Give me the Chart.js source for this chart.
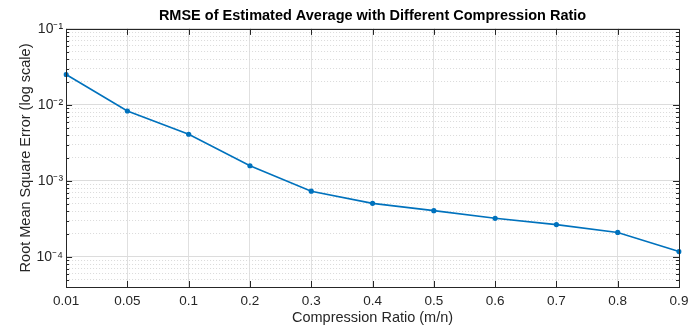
<!DOCTYPE html>
<html>
<head>
<meta charset="utf-8">
<script src="https://cdn.jsdelivr.net/npm/chart.js@4"></script>
<style>
  html, body { margin: 0; padding: 0; background: #fff; }
  #wrap { width: 699px; height: 325px; }
</style>
</head>
<body>
<div id="wrap"><canvas id="rmseChart" width="699" height="325"></canvas></div>
<script>
// compression ratios (m/n) on the x axis
const ratios = ["0.01", "0.05", "0.1", "0.2", "0.3", "0.4", "0.5", "0.6", "0.7", "0.8", "0.9"];
// RMSE
const rmse = [0.0251, 0.0083, 0.0041, 0.00158, 0.00073, 0.000505, 0.000405, 0.000321, 0.000265, 0.000209, 0.000117];
// decade ticks and their labels
const decades = [1e-4, 1e-3, 1e-2, 1e-1];
const decadeLabels = ["10\u207B\u2074", "10\u207B\u00B3", "10\u207B\u00B2", "10\u207B\u00B9"];
const yMin = 4e-5;
const yMax = 1e-1;

const axisColor = "#262626";
const lineBlue = "#0072BD";

// minor ticks 2..9 x 10^k inside the range
function minorTicks() {
  const out = [];
  for (let e = -5; e <= -1; e++) {
    for (let m = 2; m <= 9; m++) {
      const v = m * Math.pow(10, e);
      if (v >= yMin * 0.999 && v <= yMax) out.push({ value: v });
    }
  }
  return out;
}

// frame and inward ticks like a boxed axes
const boxPlugin = {
  id: "box",
  afterDraw(chart) {
    const { ctx, chartArea: a, scales } = chart;
    ctx.save();
    ctx.strokeStyle = axisColor;
    ctx.lineWidth = 1;
    ctx.beginPath();
    // x ticks top and bottom
    scales.x.ticks.forEach((t, i) => {
      const px = Math.round(scales.x.getPixelForTick(i)) + 0.5;
      ctx.moveTo(px, a.bottom); ctx.lineTo(px, a.bottom - 6);
      ctx.moveTo(px, a.top); ctx.lineTo(px, a.top + 6);
    });
    // y major ticks
    scales.y.ticks.forEach((t) => {
      const py = Math.round(scales.y.getPixelForValue(t.value)) + 0.5;
      ctx.moveTo(a.left, py); ctx.lineTo(a.left + 6, py);
      ctx.moveTo(a.right, py); ctx.lineTo(a.right - 6, py);
    });
    // y minor ticks
    scales.yMinor.ticks.forEach((t) => {
      const py = Math.round(scales.yMinor.getPixelForValue(t.value)) + 0.5;
      ctx.moveTo(a.left, py); ctx.lineTo(a.left + 3, py);
      ctx.moveTo(a.right, py); ctx.lineTo(a.right - 3, py);
    });
    ctx.stroke();
    ctx.strokeRect(Math.round(a.left) + 0.5, Math.round(a.top) + 0.5,
      Math.round(a.right - a.left), Math.round(a.bottom - a.top));
    ctx.restore();
  }
};

Chart.defaults.font.family = "'Liberation Sans', Arial, sans-serif";
Chart.defaults.color = axisColor;

const ctx = document.getElementById("rmseChart").getContext("2d");
const rmseChart = new Chart(ctx, {
  type: "line",
  data: {
    labels: ratios,
    datasets: [
      {
        label: "RMSE",
        data: rmse,
        borderColor: lineBlue,
        backgroundColor: lineBlue,
        borderWidth: 1.6,
        pointRadius: 2.6,
        pointHoverRadius: 2.6,
        pointBorderWidth: 0,
        tension: 0,
        yAxisID: "y",
      },
    ],
  },
  options: {
    responsive: false,
    animation: false,
    layout: { padding: { top: 5, right: 20, left: 19, bottom: 0 } },
    plugins: {
      legend: { display: false },
      tooltip: { enabled: false },
      title: {
        display: true,
        fullSize: false,
        text: "RMSE of Estimated Average with Different Compression Ratio",
        color: "#000",
        font: { size: 14.5, weight: "bold" },
        padding: { top: 2, bottom: 4.5 },
      },
    },
    scales: {
      x: {
        type: "category",
        offset: false,
        grid: { color: "#e0e0e0", lineWidth: 1, drawTicks: false },
        border: { display: false },
        ticks: { color: axisColor, font: { size: 13.5 }, padding: 6, maxRotation: 0, autoSkip: false },
        title: { display: true, text: "Compression Ratio (m/n)", color: axisColor, font: { size: 14.5, lineHeight: 1 }, padding: { top: 0, bottom: 0 } },
        afterFit: (scale) => { scale.height = 38; },
      },
      yMinor: {
        type: "logarithmic",
        position: "right",
        min: yMin,
        max: yMax,
        afterBuildTicks: (scale) => { scale.ticks = minorTicks(); },
        grid: { color: "#dadada", lineWidth: 1, drawTicks: false },
        border: { display: false, dash: [1, 2] },
        ticks: { display: false },
        afterFit: (scale) => { scale.width = 0; },
      },
      y: {
        type: "logarithmic",
        position: "left",
        min: yMin,
        max: yMax,
        afterBuildTicks: (scale) => { scale.ticks = decades.map((v) => ({ value: v })); },
        grid: { color: "#dcdcdc", lineWidth: 1, drawTicks: false },
        border: { display: false },
        ticks: {
          color: axisColor,
          font: { size: 14 },
          padding: 3,
          callback: (value) => {
            const i = decades.findIndex((d) => Math.abs(d - value) / d < 1e-6);
            return i >= 0 ? decadeLabels[i] : "";
          },
        },
        title: { display: true, text: "Root Mean Square Error (log scale)", color: axisColor, font: { size: 14.5, lineHeight: 1 }, padding: { top: 0, bottom: 0 } },
      },
    },
  },
  plugins: [boxPlugin],
});
</script>
</body>
</html>
